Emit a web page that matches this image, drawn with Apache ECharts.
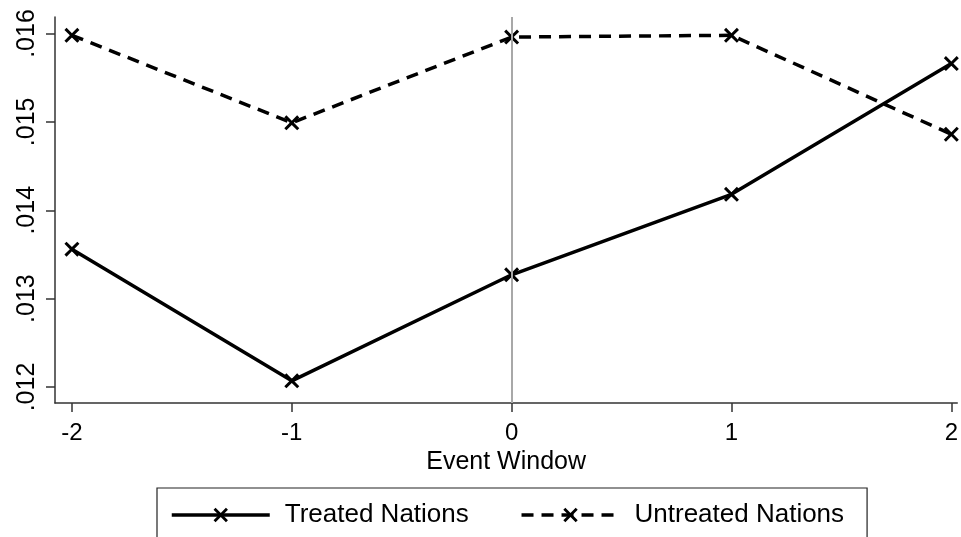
<!DOCTYPE html>
<html><head><meta charset="utf-8">
<script src="https://cdn.jsdelivr.net/npm/echarts@6/dist/echarts.min.js"></script>
<style>html,body{margin:0;padding:0;background:#fff}#c{width:961px;height:537px}</style>
</head><body><div id="c"></div>
<script>
var eventWindow = [-2, -1, 0, 1, 2];
var treated = [0.01356, 0.01207, 0.01327, 0.01418, 0.01566];
var untreated = [0.01598, 0.01499, 0.01596, 0.01598, 0.01486];
var yTicks = [0.012, 0.013, 0.014, 0.015, 0.016];
var xTicks = [-2, -1, 0, 1, 2];
var seriesNames = ['Treated Nations', 'Untreated Nations'];
var xTitle = 'Event Window';

var XPATH = 'path://M0,1.4L1.4,0L5,3.6L8.6,0L10,1.4L6.4,5L10,8.6L8.6,10L5,6.4L1.4,10L0,8.6L3.6,5Z';
var FONT = '"Liberation Sans", Arial, Helvetica, sans-serif';

function pairs(xs, ys) { return xs.map(function (x, i) { return [x, ys[i]]; }); }

var chart = echarts.init(document.getElementById('c'), null, {renderer: 'canvas'});
chart.setOption({
  animation: false,
  backgroundColor: '#fff',
  grid: {left: 55, right: 1, top: 17, bottom: 134, containLabel: false},
  xAxis: {
    type: 'value', min: -2.077, max: 2.027,
    name: xTitle, nameLocation: 'middle', nameGap: 44,
    nameTextStyle: {fontFamily: FONT, fontSize: 25, color: '#000'},
    axisLine: {show: true, onZero: false, lineStyle: {color: '#333', width: 1.5}},
    axisTick: {show: true, length: 9, customValues: xTicks, lineStyle: {color: '#333', width: 1.5}},
    axisLabel: {customValues: xTicks, margin: 18, fontFamily: FONT, fontSize: 24, color: '#000',
      formatter: function (v) { return String(v); }},
    splitLine: {show: false}
  },
  yAxis: {
    type: 'value', min: 0.011819, max: 0.016187,
    axisLine: {show: true, onZero: false, lineStyle: {color: '#333', width: 1.5}},
    axisTick: {show: true, length: 9, customValues: yTicks, lineStyle: {color: '#333', width: 1.5}},
    axisLabel: {customValues: yTicks, rotate: 90, margin: 15, fontFamily: FONT, fontSize: 25, color: '#000',
      formatter: function (v) { return v.toFixed(3).replace(/^0/, ''); }},
    splitLine: {show: false}
  },
  legend: {
    data: seriesNames,
    left: 157, top: 488,
    padding: [14, 23, 14, 13],
    borderColor: '#222', borderWidth: 1.2,
    itemWidth: 98, itemHeight: 18, itemGap: 51,
    lineStyle: {width: 3.5},
    textStyle: {fontFamily: FONT, fontSize: 26, color: '#000', padding: [0, 0, 0, 10], lineHeight: 26}
  },
  series: [
    {
      type: 'line', name: 'grid', z: 1, silent: true, data: [[null, null]],
      markLine: {
        silent: true, symbol: ['none', 'none'], label: {show: false},
        data: yTicks.map(function (v) { return {yAxis: v, lineStyle: {color: '#dde8eb', width: 1.5, type: 'solid'}}; })
          .concat([{xAxis: 0, lineStyle: {color: '#a8a8a8', width: 2, type: 'solid'}}])
      }
    },
    {
      type: 'line', name: seriesNames[0], z: 3, data: pairs(eventWindow, treated),
      symbol: XPATH, symbolSize: 15, symbolKeepAspect: true,
      lineStyle: {color: '#000', width: 3.5, type: 'solid'},
      itemStyle: {color: '#000', borderWidth: 0}
    },
    {
      type: 'line', name: seriesNames[1], z: 3, data: pairs(eventWindow, untreated),
      symbol: XPATH, symbolSize: 15, symbolKeepAspect: true,
      lineStyle: {color: '#000', width: 3.5, type: [12, 8]},
      itemStyle: {color: '#000', borderWidth: 0}
    }
  ]
});
</script></body></html>
